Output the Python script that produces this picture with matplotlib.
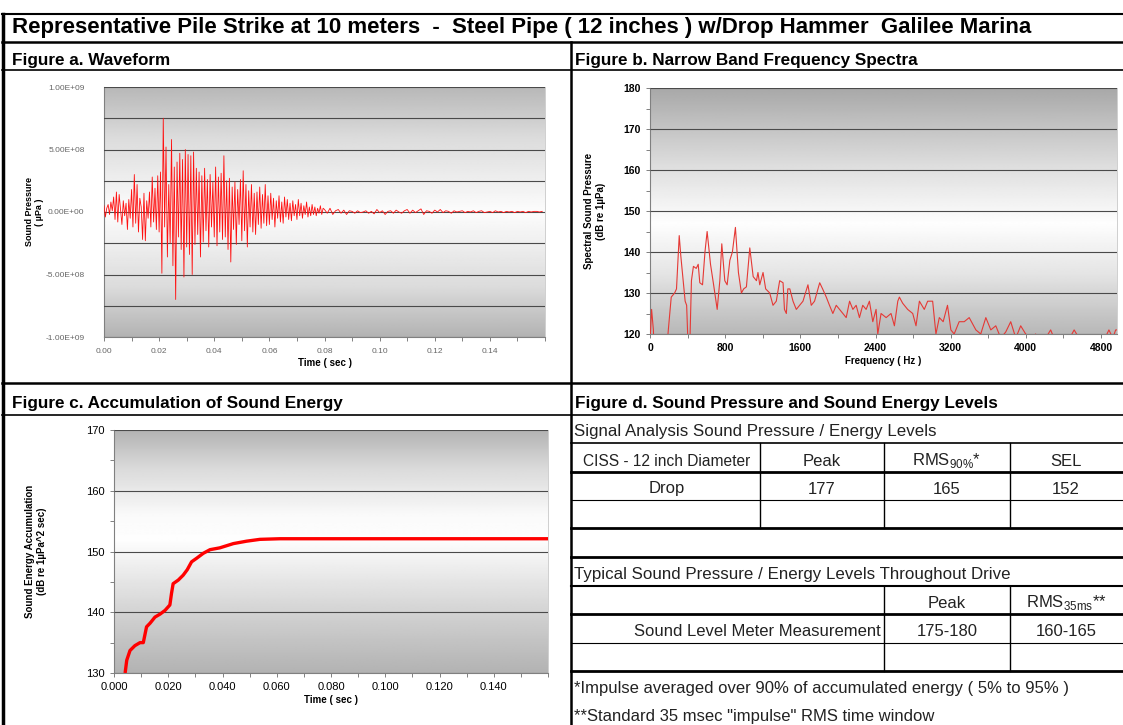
import matplotlib
matplotlib.use('Agg')
import matplotlib.pyplot as plt
from matplotlib.lines import Line2D
from matplotlib.ticker import MultipleLocator, FuncFormatter
import numpy as np

plt.rcParams['font.family'] = ['Liberation Sans', 'DejaVu Sans']
plt.rcParams['mathtext.fontset'] = 'custom'
plt.rcParams['mathtext.rm'] = 'Liberation Sans'

# ---- data ----
title = 'Representative Pile Strike at 10 meters  -  Steel Pipe ( 12 inches ) w/Drop Hammer  Galilee Marina'

# waveform, units of 1e8 uPa; first block sampled every 0.5 ms (0-0.08 s), tail every 1 ms
wave_dt1 = 0.0005
wave_head = [
    0.5, -0.4, 0.3, 0.6, -0.2, 0.8, 0.1, 1.2, -0.6, 1.6,
    -0.8, 1.4, 0.2, -1.0, 0.9, -0.3, 0.7, -1.4, 1.0, -0.5,
    1.8, -1.2, 3.0, -0.9, 2.2, -1.6, 1.1, 0.4, -2.2, 1.5,
    -2.3, 0.9, -0.5, 1.6, -1.2, 2.8, -0.8, 1.9, -1.4, 2.9,
    -1.6, 3.2, -4.9, 7.5, -1.2, 5.2, -3.6, 2.2, -2.5, 5.8,
    -4.3, 3.6, -7.0, 4.0, -2.0, 4.7, -3.0, 4.2, -5.2, 5.0,
    -2.8, 4.6, -3.4, 4.5, -5.0, 4.8, -2.6, 3.5, -1.8, 3.2,
    -3.6, 2.9, -2.4, 3.5, -1.5, 2.6, -2.8, 3.0, -1.2, 2.4,
    -2.0, 3.6, -2.7, 2.8, -1.6, 3.1, -2.2, 4.5, -2.0, 2.5,
    -3.0, 2.7, -4.0, 2.0, -1.4, 2.4, -2.6, 1.8, -1.0, 2.6,
    -2.3, 3.3, -1.5, 2.2, -2.8, 1.7, -1.2, 2.2, -1.6, 1.5,
    -1.8, 1.6, -1.0, 2.0, -1.3, 1.4, -0.9, 2.2, -1.1, 1.3,
    -1.0, 1.5, -0.6, 1.1, -1.2, 0.9, -0.5, 1.3, -0.8, 0.8,
    -0.9, 1.2, -0.4, 1.0, -0.6, 0.7, -0.7, 0.9, -0.3, 0.6,
    -0.6, 1.0, -0.3, 0.7, -0.5, 0.5, -0.2, 0.8, -0.4, 0.4,
    -0.3, 0.6, -0.2, 0.4, -0.3, 0.3, -0.1, 0.5, -0.2, 0.3,
]
wave_dt2 = 0.001
wave_tail = [
    0.2, -0.1, 0.3, -0.2, 0.1, 0.2, -0.1, 0.15, -0.2, 0.1,
    0.05, -0.1, 0.1, -0.05, 0.0, 0.1, -0.1, 0.05, -0.15, 0.2,
    -0.05, 0.1, -0.2, 0.05, 0.1, -0.1, 0.15, 0.0, -0.1, 0.1,
    0.2, -0.1, 0.15, -0.05, 0.1, 0.25, -0.2, 0.1, 0.05, -0.1,
    0.15, 0.0, 0.2, -0.05, 0.1, 0.05, -0.1, 0.1, 0.0, 0.05,
    0.1, -0.05, 0.05, 0.0, 0.1, -0.05, 0.05, 0.1, -0.05, 0.0,
    0.05, -0.05, 0.1, 0.0, 0.05, -0.05, 0.05, 0.0, 0.05, -0.05,
    0.05, 0.0, 0.05, -0.05, 0.05, 0.0, 0.05, 0.05, 0.0, 0.05,
]

# narrow band spectrum (Hz, dB re 1uPa)
spec_freq = [0, 17, 36, 51, 82, 123, 164, 195, 226, 262, 282, 311, 328, 349, 374, 390, 416,
             441, 462, 492, 513, 530, 559, 585, 608, 626, 644, 677, 715, 743, 764, 796, 821,
             850, 877, 909, 941, 973, 997, 1026, 1062, 1098, 1133, 1149, 1168, 1203, 1231,
             1274, 1309, 1344, 1380, 1416, 1431, 1451, 1467, 1488, 1522, 1557, 1592, 1628,
             1681, 1716, 1751, 1806, 1837, 1876, 1910, 1946, 1982, 2017, 2052, 2088, 2124,
             2159, 2194, 2229, 2264, 2300, 2335, 2371, 2406, 2424, 2459, 2513, 2565, 2601,
             2637, 2654, 2689, 2742, 2796, 2831, 2867, 2919, 2955, 3008, 3043, 3079, 3120,
             3166, 3202, 3237, 3290, 3344, 3397, 3468, 3520, 3574, 3627, 3680, 3733, 3786,
             3839, 3893, 3945, 3998, 4069, 4104, 4157, 4211, 4264, 4317, 4371, 4443, 4514,
             4617, 4720, 4822, 4884, 4925, 4956, 4970]
spec_level = [118, 126, 121, 110, 105, 108, 112, 121, 129, 130, 131, 144, 139, 134, 128, 127, 110,
              133, 136.5, 136, 137, 132.5, 132, 140, 145, 141, 137, 132, 126, 133, 142, 133, 132,
              138, 140, 146, 135, 130, 131, 131.5, 141, 134, 133, 135, 132, 135, 131,
              130, 127, 128, 133, 132.5, 126, 125, 131, 131, 128, 126, 127, 128,
              132, 127, 128, 132.5, 131, 129, 127, 125, 127, 126, 125, 124, 128,
              126, 127, 124, 127, 126, 128, 123, 126, 120, 125, 124, 125, 122,
              128, 129, 127.5, 126, 125, 122, 128, 126, 128, 128, 120, 124, 123,
              127, 121, 120, 123, 123, 124, 121, 120, 124, 121, 122, 119, 120.5,
              123, 119, 122, 120, 119, 120, 117, 119, 121, 118, 117, 118, 121,
              117, 116, 118, 121, 119, 121, 121]

# accumulated sound energy (sec, dB re 1uPa^2 sec)
energy_t = [0.0041, 0.0047, 0.0059, 0.0077, 0.0096, 0.0108, 0.0120, 0.0133, 0.0151, 0.0170,
            0.0188, 0.0206, 0.0212, 0.0218, 0.0237, 0.0255, 0.0270, 0.0286, 0.0305, 0.0329,
            0.0354, 0.0390, 0.0440, 0.0489, 0.0538, 0.0612, 0.0700, 0.1000, 0.1300, 0.1600]
energy_db = [130.0, 132.1, 133.7, 134.5, 135.0, 135.0, 137.6, 138.2, 139.2, 139.7,
             140.3, 141.2, 143.1, 144.7, 145.3, 146.1, 147.0, 148.3, 148.9, 149.7,
             150.3, 150.6, 151.3, 151.7, 152.0, 152.1, 152.1, 152.1, 152.1, 152.1]

# tables
sig_title = 'Signal Analysis Sound Pressure / Energy Levels'
sig_header = ['CISS - 12 inch Diameter', 'Peak', r'RMS$_{\mathregular{90\%}}$*', 'SEL']
sig_row = ['Drop', '177', '165', '152']
drive_title = 'Typical Sound Pressure / Energy Levels Throughout Drive'
drive_header = ['Peak', r'RMS$_{\mathregular{35ms}}$**']
drive_row = ['Sound Level Meter Measurement', '175-180', '160-165']
notes = ['*Impulse averaged over 90% of accumulated energy ( 5% to 95% )',
         '**Standard 35 msec "impulse" RMS time window']

# ---- figure ----
W, H = 1123, 725
fig = plt.figure(figsize=(W / 100, H / 100), dpi=100)


def fx(x):
    return x / W


def fy(y):
    return 1 - y / H


def hline(y, x0, x1, lw=1.0):
    fig.add_artist(Line2D([fx(x0), fx(x1)], [fy(y), fy(y)], color='black', lw=lw))


def vline(x, y0, y1, lw=1.0):
    fig.add_artist(Line2D([fx(x), fx(x)], [fy(y0), fy(y1)], color='black', lw=lw))


def put(x, y, s, ha='left', size=10, weight='normal', **kw):
    return fig.text(fx(x), fy(y), s, ha=ha, va='center', fontsize=size, fontweight=weight, **kw)


def axes_px(x0, y0, x1, y1):
    return fig.add_axes([fx(x0), fy(y1), fx(x1) - fx(x0), (y1 - y0) / H])


def shade(ax, stops, vals):
    g = np.interp(np.linspace(1, 0, 256), stops, vals).reshape(-1, 1)
    ax.imshow(g, extent=(0, 1, 0, 1), transform=ax.transAxes, aspect='auto',
              cmap='gray', vmin=0, vmax=1, zorder=0, interpolation='bilinear')


def style(ax):
    for s in ['top', 'right']:
        ax.spines[s].set_color('#c8c8c8')
        ax.spines[s].set_linewidth(0.6)
    for s in ['left', 'bottom']:
        ax.spines[s].set_color('#808080')
        ax.spines[s].set_linewidth(0.8)
    ax.tick_params(which='both', direction='out', color='#808080', length=3, width=0.7)
    ax.grid(axis='y', which='major', color='#4a4a4a', lw=0.8, zorder=1)
    ax.set_axisbelow(False)


# panel a
ax_a = axes_px(104, 87, 545, 337)
shade(ax_a, [0, 0.2, 0.5, 0.8, 1], [0.70, 0.86, 0.99, 0.86, 0.72])
t1 = np.arange(len(wave_head)) * wave_dt1
t2 = t1[-1] + wave_dt1 + np.arange(len(wave_tail)) * wave_dt2
ax_a.plot(np.concatenate([t1, t2]), np.array(wave_head + wave_tail) * 1e8,
          color='#ff1010', lw=0.6, zorder=3)
ax_a.set_xlim(0, 0.16)
ax_a.set_ylim(-1e9, 1e9)
ax_a.yaxis.set_major_locator(MultipleLocator(2.5e8))
ax_a.yaxis.set_major_formatter(FuncFormatter(
    lambda v, p: f'{v:.2E}' if abs(round(v / 2.5e8)) % 2 == 0 else ''))
ax_a.xaxis.set_major_locator(MultipleLocator(0.02))
ax_a.xaxis.set_minor_locator(MultipleLocator(0.01))
ax_a.xaxis.set_major_formatter(FuncFormatter(lambda v, p: f'{v:.2f}' if v < 0.15 else ''))
style(ax_a)
ax_a.tick_params(axis='both', labelsize=6, labelcolor='#666666')
ax_a.tick_params(axis='y', which='major', length=0, pad=14)
ax_a.tick_params(axis='x', pad=5)
ax_a.set_xlabel('Time ( sec )', fontsize=7, fontweight='bold', labelpad=2)
ax_a.set_ylabel('Sound Pressure\n( µPa )', fontsize=6.5, fontweight='bold')
ax_a.yaxis.set_label_coords(-0.135, 0.5)

# panel b
ax_b = axes_px(650, 88, 1117, 334)
shade(ax_b, [0, 0.25, 0.45, 0.7, 1], [0.72, 0.90, 0.995, 0.86, 0.66])
ax_b.plot(spec_freq, spec_level, color='#e53935', lw=0.8, zorder=3)
ax_b.set_xlim(0, 4970)
ax_b.set_ylim(120, 180)
ax_b.yaxis.set_major_locator(MultipleLocator(10))
ax_b.yaxis.set_minor_locator(MultipleLocator(5))
ax_b.xaxis.set_major_locator(MultipleLocator(800))
ax_b.xaxis.set_minor_locator(MultipleLocator(400))
style(ax_b)
ax_b.tick_params(axis='both', labelsize=7.5)
for lb in ax_b.get_xticklabels() + ax_b.get_yticklabels():
    lb.set_fontweight('bold')
ax_b.set_xlabel('Frequency ( Hz )', fontsize=7, fontweight='bold', labelpad=2)
ax_b.set_ylabel('Spectral Sound Pressure\n(dB re 1µPa)', fontsize=7, fontweight='bold')
ax_b.yaxis.set_label_coords(-0.095, 0.5)

# panel c
ax_c = axes_px(114, 430, 548, 673)
shade(ax_c, [0, 0.2, 0.55, 0.65, 0.85, 1], [0.70, 0.80, 0.995, 0.98, 0.85, 0.70])
ax_c.plot(energy_t, energy_db, color='#ff0000', lw=2.4, zorder=3, solid_capstyle='butt')
ax_c.set_xlim(0, 0.16)
ax_c.set_ylim(130, 170)
ax_c.yaxis.set_major_locator(MultipleLocator(10))
ax_c.yaxis.set_minor_locator(MultipleLocator(5))
ax_c.xaxis.set_major_locator(MultipleLocator(0.02))
ax_c.xaxis.set_minor_locator(MultipleLocator(0.01))
ax_c.xaxis.set_major_formatter(FuncFormatter(lambda v, p: f'{v:.3f}' if v < 0.15 else ''))
style(ax_c)
ax_c.tick_params(axis='both', labelsize=8)
ax_c.set_xlabel('Time ( sec )', fontsize=7, fontweight='bold', labelpad=2)
ax_c.set_ylabel('Sound Energy Accumulation\n(dB re 1µPa^2 sec)', fontsize=7, fontweight='bold')
ax_c.yaxis.set_label_coords(-0.155, 0.5)

# ---- frame and headers ----
hline(14, 2, 1123, 1.5)
vline(3, 14, 725, 2.5)
ttl = put(12, 28, title, size=15, weight='bold')
# stretch the title to the width it has in the original
r = fig.canvas.get_renderer()
ttl.set_fontsize(15 * 1026 / ttl.get_window_extent(r).width)
hline(42, 2, 1123, 1.8)
vline(571, 42, 725, 1.8)
hline(70, 2, 1123, 1.2)
hline(383, 2, 1123, 1.8)
hline(415, 2, 1123, 1.2)
put(12, 60, 'Figure a. Waveform', size=12.3, weight='bold')
put(575, 60, 'Figure b. Narrow Band Frequency Spectra', size=12.3, weight='bold')
put(12, 404, 'Figure c. Accumulation of Sound Energy', size=12.3, weight='bold')
put(575, 404, 'Figure d. Sound Pressure and Sound Energy Levels', size=12.3, weight='bold')

# ---- panel d tables ----
col_x = [667, 822, 947, 1066]
tc = '#222222'
put(574, 432, sig_title, size=12.2, color=tc)
hline(443, 571, 1123, 1.2)
for i, (x, s) in enumerate(zip(col_x, sig_header)):
    put(x, 461, s, ha='center', size=11.2 if i == 0 else 12, color=tc)
hline(472, 571, 1123, 2.0)
for x, s in zip(col_x, sig_row):
    put(x, 489, s, ha='center', size=12, color=tc)
hline(500, 571, 1123, 0.8)
hline(528, 571, 1123, 2.0)
for x in [760, 884, 1010]:
    vline(x, 443, 528, 1.0)
hline(557, 571, 1123, 2.0)
put(574, 575, drive_title, size=12.2, color=tc)
hline(586, 571, 1123, 1.5)
for x, s in zip(col_x[2:], drive_header):
    put(x, 603, s, ha='center', size=12, color=tc)
hline(614, 571, 1123, 2.0)
put(881, 632, drive_row[0], ha='right', size=12, color=tc)
for x, s in zip(col_x[2:], drive_row[1:]):
    put(x, 632, s, ha='center', size=12, color=tc)
hline(643, 571, 1123, 0.8)
for x in [884, 1010]:
    vline(x, 586, 671, 1.0)
hline(671, 571, 1123, 2.0)
put(574, 689, notes[0], size=12, color=tc)
put(574, 716, notes[1], size=12, color=tc)

fig.savefig('out.png', dpi=100, facecolor='white')
